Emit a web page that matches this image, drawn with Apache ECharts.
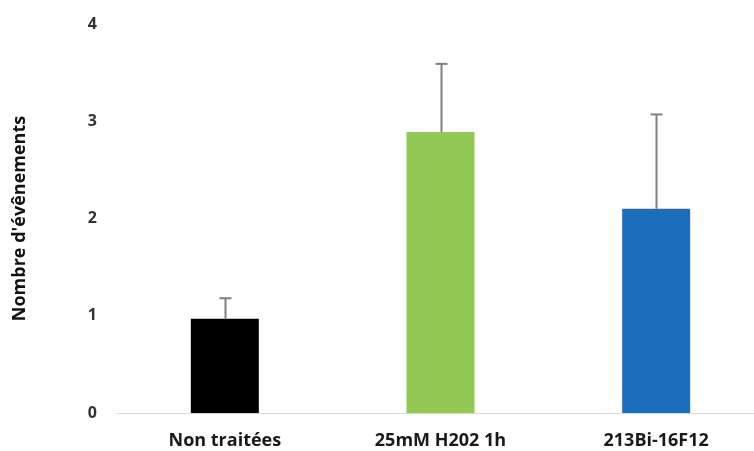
<!DOCTYPE html>
<html><head><meta charset="utf-8">
<script src="https://cdn.jsdelivr.net/npm/echarts@6/dist/echarts.min.js"></script>
<style>html,body{margin:0;padding:0;background:#fff}#c{width:754px;height:451px}</style>
</head><body><div id="c"></div>
<script>
const categories = ["Non traitées", "25mM H202 1h", "213Bi-16F12"];
const values = [0.97, 2.89, 2.10];
const errorTops = [1.18, 3.59, 3.07];
const barColors = ["#000000", "#92C955", "#1C6EBC"];
const yTicks = [0, 1, 2, 3, 4];

const chart = echarts.init(document.getElementById('c'));
const font = '"Open Sans", sans-serif';
chart.setOption({
  animation: false,
  grid: { left: 117, top: 24, width: 647, height: 389, containLabel: false, outerBoundsMode: 'none' },
  xAxis: {
    type: 'category', data: categories,
    axisLine: { lineStyle: { color: '#d9d9d9', width: 1 } },
    axisTick: { show: false },
    axisLabel: { margin: 19, fontSize: 18, fontWeight: 'bold', color: '#1a1a1a', fontFamily: font }
  },
  yAxis: {
    type: 'value', min: yTicks[0], max: yTicks[yTicks.length - 1], interval: 1,
    splitLine: { show: false },
    axisLine: { show: false }, axisTick: { show: false },
    axisLabel: { margin: 20, fontSize: 16, fontWeight: 'bold', color: '#333', fontFamily: font },
    name: "Nombre d'évênements", nameLocation: 'middle', nameGap: 88, nameRotate: 90,
    nameTextStyle: { fontSize: 18, fontWeight: 'bold', color: '#111', fontFamily: font }
  },
  series: [
    {
      type: 'bar', barWidth: 68,
      data: values.map((v, i) => ({ value: v, itemStyle: { color: barColors[i] } })),
      z: 2
    },
    {
      type: 'custom', z: 3,
      data: values.map((v, i) => [i, v, errorTops[i]]),
      renderItem: function (params, api) {
        const base = api.coord([api.value(0), api.value(1)]);
        const top = api.coord([api.value(0), api.value(2)]);
        const x = Math.round(base[0]) + 0.5;
        const hw = 6;
        const style = { stroke: '#7f7f7f', lineWidth: 2 };
        return { type: 'group', children: [
          { type: 'line', shape: { x1: x, y1: base[1], x2: x, y2: top[1] }, style: style },
          { type: 'line', shape: { x1: x - hw, y1: top[1], x2: x + hw, y2: top[1] }, style: style }
        ]};
      }
    }
  ]
});
</script></body></html>
